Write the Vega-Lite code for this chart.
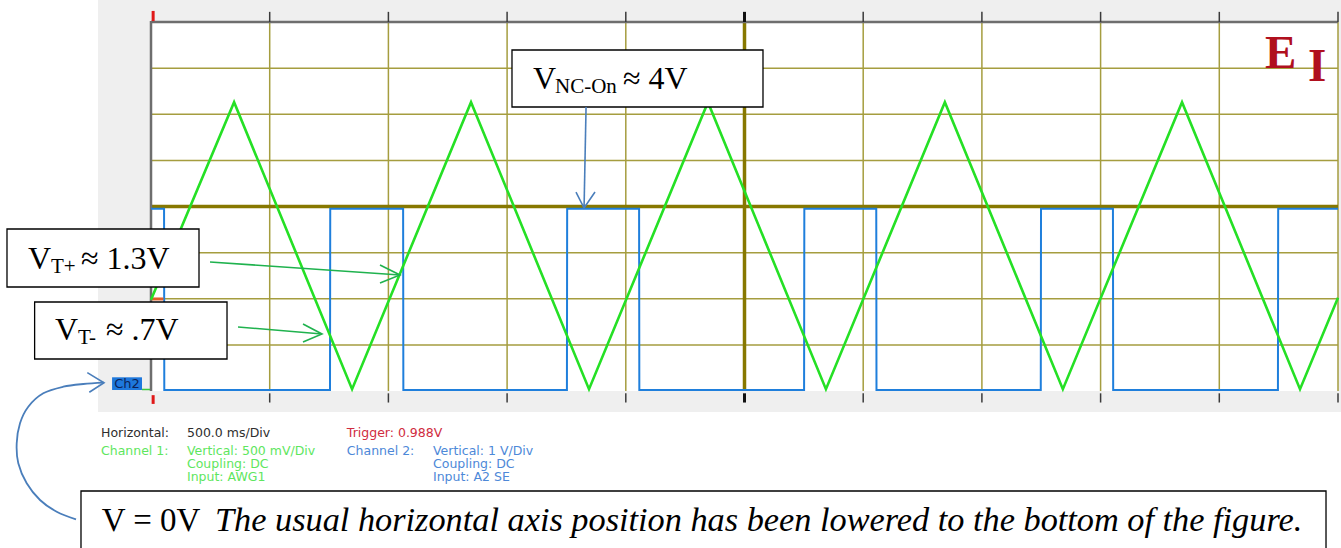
{
  "$schema": "https://vega.github.io/schema/vega-lite/v6.json",
  "width": 1187,
  "height": 369,
  "autosize": {"type": "none"},
  "padding": {"left": 151, "top": 22, "right": 3, "bottom": 157},
  "background": "white",
  "config": {"view": {"stroke": null}},
  "datasets": {
    "ch2": [
      {"i": 0, "t": 0, "v": 3.95}, {"i": 1, "t": 55, "v": 3.95}, {"i": 2, "t": 56, "v": 0.02},
      {"i": 3, "t": 754, "v": 0.02}, {"i": 4, "t": 755, "v": 3.95}, {"i": 5, "t": 1062, "v": 3.95},
      {"i": 6, "t": 1063, "v": 0.02}, {"i": 7, "t": 1752, "v": 0.02}, {"i": 8, "t": 1753, "v": 3.95},
      {"i": 9, "t": 2056, "v": 3.95}, {"i": 10, "t": 2057, "v": 0.02}, {"i": 11, "t": 2751, "v": 0.02},
      {"i": 12, "t": 2752, "v": 3.95}, {"i": 13, "t": 3055, "v": 3.95}, {"i": 14, "t": 3056, "v": 0.02},
      {"i": 15, "t": 3748, "v": 0.02}, {"i": 16, "t": 3749, "v": 3.95}, {"i": 17, "t": 4052, "v": 3.95},
      {"i": 18, "t": 4053, "v": 0.02}, {"i": 19, "t": 4747, "v": 0.02}, {"i": 20, "t": 4748, "v": 3.95},
      {"i": 21, "t": 5000, "v": 3.95}
    ],
    "ch1": [
      {"t": 0, "v": 0.99}, {"t": 350, "v": 3.13}, {"t": 847, "v": 0.02}, {"t": 1348, "v": 3.13},
      {"t": 1845, "v": 0.02}, {"t": 2346, "v": 3.13}, {"t": 2843, "v": 0.02}, {"t": 3344, "v": 3.13},
      {"t": 3841, "v": 0.02}, {"t": 4343, "v": 3.13}, {"t": 4840, "v": 0.02}, {"t": 5000, "v": 1.01}
    ]
  },
  "encoding": {
    "x": {"field": "t", "type": "quantitative", "scale": {"domain": [0, 5000], "nice": false, "zero": false}, "axis": null},
    "y": {"field": "v", "type": "quantitative", "scale": {"domain": [0, 8], "nice": false, "zero": false}, "axis": null}
  },
  "layer": [
    {
      "layer": [
        {
          "data": {"values": [{"t": -223, "t2": 5013, "v": -0.455, "v2": 8.5}]},
          "mark": {"type": "rect", "color": "#efefef"},
          "encoding": {"x2": {"field": "t2"}, "y2": {"field": "v2"}}
        },
        {
          "data": {"values": [{"t": 0, "t2": 5000, "v": 0, "v2": 8}]},
          "mark": {"type": "rect", "color": "#ffffff"},
          "encoding": {"x2": {"field": "t2"}, "y2": {"field": "v2"}}
        },
        {
          "data": {"values": [
            {"t": 500, "t2": 500, "v": 0, "v2": 8}, {"t": 1000, "t2": 1000, "v": 0, "v2": 8},
            {"t": 1500, "t2": 1500, "v": 0, "v2": 8}, {"t": 2000, "t2": 2000, "v": 0, "v2": 8},
            {"t": 3000, "t2": 3000, "v": 0, "v2": 8}, {"t": 3500, "t2": 3500, "v": 0, "v2": 8},
            {"t": 4000, "t2": 4000, "v": 0, "v2": 8}, {"t": 4500, "t2": 4500, "v": 0, "v2": 8},
            {"t": 5000, "t2": 5000, "v": 0, "v2": 8},
            {"t": 0, "t2": 5000, "v": 1, "v2": 1}, {"t": 0, "t2": 5000, "v": 2, "v2": 2},
            {"t": 0, "t2": 5000, "v": 3, "v2": 3}, {"t": 0, "t2": 5000, "v": 5, "v2": 5},
            {"t": 0, "t2": 5000, "v": 6, "v2": 6}, {"t": 0, "t2": 5000, "v": 7, "v2": 7}
          ]},
          "mark": {"type": "rule", "color": "#a59d3f", "strokeWidth": 1.5},
          "encoding": {"x2": {"field": "t2"}, "y2": {"field": "v2"}}
        },
        {
          "data": {"values": [
            {"t": 2500, "t2": 2500, "v": 0, "v2": 8},
            {"t": 0, "t2": 5000, "v": 4, "v2": 4}
          ]},
          "mark": {"type": "rule", "color": "#877800", "strokeWidth": 3.5},
          "encoding": {"x2": {"field": "t2"}, "y2": {"field": "v2"}}
        },
        {
          "data": {"values": [
            {"t": 0, "t2": 5000, "v": 8, "v2": 8},
            {"t": 0, "t2": 0, "v": 0, "v2": 8.02}
          ]},
          "mark": {"type": "rule", "color": "#6e6e6e", "strokeWidth": 2.5},
          "encoding": {"x2": {"field": "t2"}, "y2": {"field": "v2"}}
        },
        {
          "data": {"values": [
            {"t": 500, "v": 8.0, "v2": 8.22}, {"t": 1000, "v": 8.0, "v2": 8.22}, {"t": 1500, "v": 8.0, "v2": 8.22},
            {"t": 2000, "v": 8.0, "v2": 8.22}, {"t": 3000, "v": 8.0, "v2": 8.22}, {"t": 3500, "v": 8.0, "v2": 8.22},
            {"t": 4000, "v": 8.0, "v2": 8.22}, {"t": 4500, "v": 8.0, "v2": 8.22}, {"t": 5000, "v": 8.0, "v2": 8.22},
            {"t": 500, "v": -0.05, "v2": -0.25}, {"t": 1000, "v": -0.05, "v2": -0.25}, {"t": 1500, "v": -0.05, "v2": -0.25},
            {"t": 2000, "v": -0.05, "v2": -0.25}, {"t": 3000, "v": -0.05, "v2": -0.25}, {"t": 3500, "v": -0.05, "v2": -0.25},
            {"t": 4000, "v": -0.05, "v2": -0.25}, {"t": 4500, "v": -0.05, "v2": -0.25}, {"t": 5000, "v": -0.05, "v2": -0.25}
          ]},
          "mark": {"type": "rule", "color": "#3a3a3a", "strokeWidth": 1.5},
          "encoding": {"y2": {"field": "v2"}}
        },
        {
          "data": {"values": [{"t": 2500, "v": 8.0, "v2": 8.22}, {"t": 2500, "v": -0.05, "v2": -0.25}]},
          "mark": {"type": "rule", "color": "#111111", "strokeWidth": 3},
          "encoding": {"y2": {"field": "v2"}}
        },
        {
          "data": {"values": [{"t": 9, "v": 8.02, "v2": 8.24}, {"t": 9, "v": -0.09, "v2": -0.28}]},
          "mark": {"type": "rule", "color": "#e01818", "strokeWidth": 3},
          "encoding": {"y2": {"field": "v2"}}
        },
        {
          "data": {"name": "ch2"},
          "mark": {"type": "line", "color": "#1f7fdc", "strokeWidth": 2},
          "encoding": {"order": {"field": "i"}}
        },
        {
          "data": {"values": [{"t": 3, "t2": 52, "v": 1.995}]},
          "mark": {"type": "rule", "color": "#e0602a", "strokeWidth": 3},
          "encoding": {"x2": {"field": "t2"}}
        },
        {
          "data": {"values": [{"t": -38, "t2": -4, "v": 0.033}]},
          "mark": {"type": "rule", "color": "#3cc83c", "strokeWidth": 1.5},
          "encoding": {"x2": {"field": "t2"}}
        },
        {
          "data": {"values": [{"t": -164, "t2": -38, "v": 0.022, "v2": 0.297}]},
          "mark": {"type": "rect", "color": "#1e78dc"},
          "encoding": {"x2": {"field": "t2"}, "y2": {"field": "v2"}}
        },
        {
          "data": {"values": [{"t": -101, "v": 0.155, "label": "Ch2"}]},
          "mark": {"type": "text", "font": "DejaVu Sans", "fontSize": 13, "color": "#0c2358", "align": "center", "baseline": "middle"},
          "encoding": {"text": {"field": "label"}}
        }
      ]
    },
    {
      "data": {"name": "ch1"},
      "mark": {"type": "line", "color": "#25e025", "strokeWidth": 2.6},
      "encoding": {
        "y": {"field": "v", "type": "quantitative", "scale": {"domain": [0, 4], "nice": false, "zero": false}, "axis": null}
      }
    },
    {
      "layer": [
        {
          "data": {"values": [
            {"t": 1520.6, "t2": 2577.9, "v": 6.157, "v2": 7.393},
            {"t": -606.6, "t2": 202.2, "v": 2.255, "v2": 3.512},
            {"t": -490.2, "t2": 320.2, "v": 0.694, "v2": 1.93},
            {"t": -294.9, "t2": 4949.5, "v": -3.7, "v2": -2.168}
          ]},
          "mark": {"type": "rect", "fill": "#ffffff", "stroke": "#000000", "strokeWidth": 1.3},
          "encoding": {"x2": {"field": "t2"}, "y2": {"field": "v2"}}
        },
        {
          "data": {"values": [
            {"g": "s", "i": 0, "t": 1832.6, "v": 6.157}, {"g": "s", "i": 1, "t": 1824.2, "v": 3.967},
            {"g": "h", "i": 0, "t": 1790.2, "v": 4.314}, {"g": "h", "i": 1, "t": 1824.2, "v": 3.967}, {"g": "h", "i": 2, "t": 1870.3, "v": 4.314},
            {"g": "ch", "i": 0, "t": -268.3, "v": 0.397}, {"g": "ch", "i": 1, "t": -198.0, "v": 0.18}, {"g": "ch", "i": 2, "t": -259.9, "v": -0.028}
          ]},
          "mark": {"type": "line", "color": "#4a7ebb", "strokeWidth": 1.6},
          "encoding": {"detail": {"field": "g"}, "order": {"field": "i"}}
        },
        {
          "data": {"values": [
            {"i": 0, "t": -315.9, "v": -2.782}, {"i": 1, "t": -397.2, "v": -2.617}, {"i": 2, "t": -467.6, "v": -2.363},
            {"i": 3, "t": -523.6, "v": -2.001}, {"i": 4, "t": -559.0, "v": -1.568}, {"i": 5, "t": -565.7, "v": -1.134},
            {"i": 6, "t": -551.8, "v": -0.7}, {"i": 7, "t": -516.9, "v": -0.34}, {"i": 8, "t": -453.7, "v": -0.05},
            {"i": 9, "t": -369.4, "v": 0.093}, {"i": 10, "t": -285.2, "v": 0.152}, {"i": 11, "t": -198.0, "v": 0.18}
          ]},
          "mark": {"type": "line", "color": "#4a7ebb", "strokeWidth": 1.8, "interpolate": "cardinal"},
          "encoding": {"order": {"field": "i"}}
        },
        {
          "data": {"values": [
            {"g": "p", "i": 0, "t": 248.5, "v": 2.797}, {"g": "p", "i": 1, "t": 1048.9, "v": 2.515},
            {"g": "ph", "i": 0, "t": 964.6, "v": 2.732}, {"g": "ph", "i": 1, "t": 1048.9, "v": 2.515}, {"g": "ph", "i": 2, "t": 964.6, "v": 2.341},
            {"g": "m", "i": 0, "t": 366.5, "v": 1.388}, {"g": "m", "i": 1, "t": 720.3, "v": 1.236},
            {"g": "mh", "i": 0, "t": 640.3, "v": 1.453}, {"g": "mh", "i": 1, "t": 720.3, "v": 1.236}, {"g": "mh", "i": 2, "t": 640.3, "v": 1.062}
          ]},
          "mark": {"type": "line", "color": "#1fb24e", "strokeWidth": 1.6},
          "encoding": {"detail": {"field": "g"}, "order": {"field": "i"}}
        },
        {
          "data": {"values": [
            {"t": 1609.1, "v": 6.547, "label": "V"}, {"t": 1988.0, "v": 6.547, "label": "≈ 4V"},
            {"t": -518.1, "v": 2.638, "label": "V"}, {"t": -294.9, "v": 2.638, "label": "≈ 1.3V"},
            {"t": -404.4, "v": 1.106, "label": "V"}, {"t": -189.6, "v": 1.106, "label": "≈ .7V"}
          ]},
          "mark": {"type": "text", "font": "Liberation Serif", "fontSize": 32, "color": "#000000", "align": "left", "baseline": "alphabetic"},
          "encoding": {"text": {"field": "label"}}
        },
        {
          "data": {"values": [
            {"t": -207.7, "v": -3.029, "label": "V = 0V"}
          ]},
          "mark": {"type": "text", "font": "Liberation Serif", "fontSize": 33, "color": "#000000", "align": "left", "baseline": "alphabetic"},
          "encoding": {"text": {"field": "label"}}
        },
        {
          "data": {"values": [
            {"t": 1701.8, "v": 6.454, "label": "NC-On"},
            {"t": -421.2, "v": 2.558, "label": "T+"},
            {"t": -307.5, "v": 1.019, "label": "T-"}
          ]},
          "mark": {"type": "text", "font": "Liberation Serif", "fontSize": 21, "color": "#000000", "align": "left", "baseline": "alphabetic"},
          "encoding": {"text": {"field": "label"}}
        },
        {
          "data": {"values": [
            {"t": 269.6, "v": -3.029, "label": "The usual horizontal axis position has been lowered to the bottom of the figure."}
          ]},
          "mark": {"type": "text", "font": "Liberation Serif", "fontSize": 34.3, "fontStyle": "italic", "color": "#000000", "align": "left", "baseline": "alphabetic"},
          "encoding": {"text": {"field": "label"}}
        },
        {
          "data": {"values": [
            {"t": 4692, "v": 6.996, "label": "E"},
            {"t": 4874, "v": 6.727, "label": "I"}
          ]},
          "mark": {"type": "text", "font": "Liberation Serif", "fontSize": 47, "fontWeight": "bold", "color": "#b0101e", "align": "left", "baseline": "alphabetic"},
          "encoding": {"text": {"field": "label"}}
        },
        {
          "data": {"values": [
            {"t": -210.6, "v": -0.997, "label": "Horizontal:", "c": "h"},
            {"t": 151.6, "v": -0.997, "label": "500.0 ms/Div", "c": "h"},
            {"t": 825, "v": -0.997, "label": "Trigger: 0.988V", "c": "trig"},
            {"t": -210.6, "v": -1.398, "label": "Channel 1:", "c": "c1"},
            {"t": 151.6, "v": -1.398, "label": "Vertical: 500 mV/Div", "c": "c1"},
            {"t": 151.6, "v": -1.68, "label": "Coupling: DC", "c": "c1"},
            {"t": 151.6, "v": -1.962, "label": "Input: AWG1", "c": "c1"},
            {"t": 825, "v": -1.398, "label": "Channel 2:", "c": "c2"},
            {"t": 1187.9, "v": -1.398, "label": "Vertical: 1 V/Div", "c": "c2"},
            {"t": 1187.9, "v": -1.68, "label": "Coupling: DC", "c": "c2"},
            {"t": 1187.9, "v": -1.962, "label": "Input: A2 SE", "c": "c2"}
          ]},
          "mark": {"type": "text", "font": "DejaVu Sans", "fontSize": 12.5, "align": "left", "baseline": "alphabetic"},
          "encoding": {
            "text": {"field": "label"},
            "color": {"field": "c", "type": "nominal", "legend": null, "scale": {"domain": ["h", "trig", "c1", "c2"], "range": ["#2e2e2e", "#d02c40", "#5ee65e", "#4d88d8"]}}
          }
        }
      ]
    }
  ],
  "resolve": {"scale": {"y": "independent"}}
}
